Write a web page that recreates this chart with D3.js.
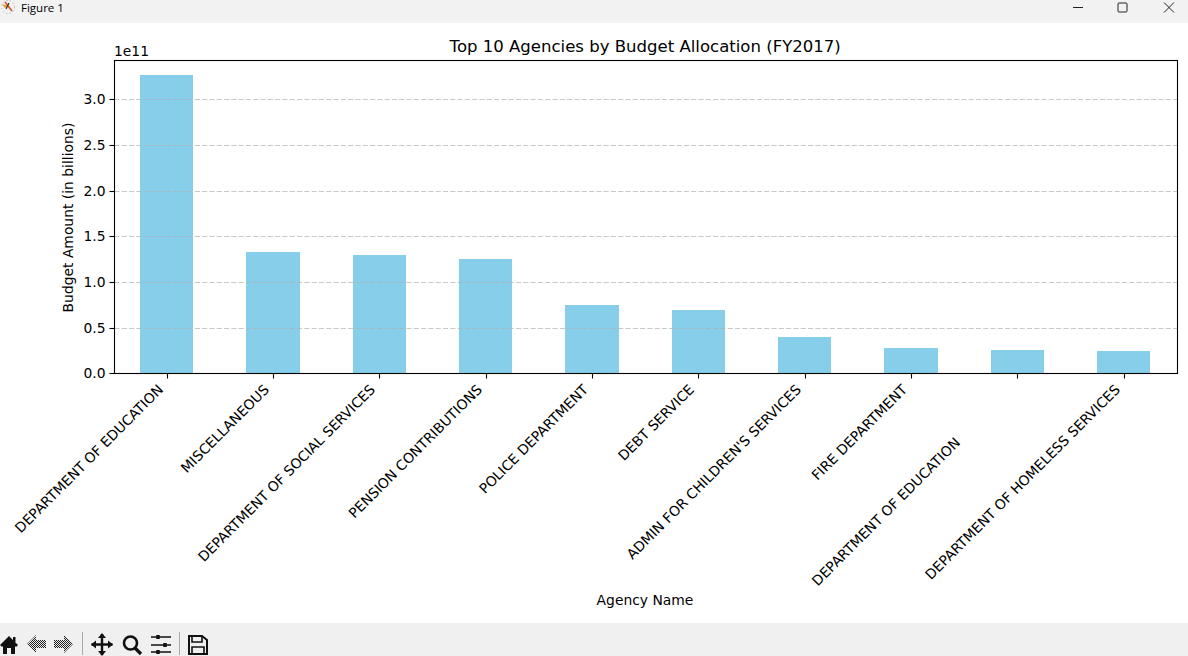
<!DOCTYPE html>
<html><head><meta charset="utf-8">
<script src="https://cdn.jsdelivr.net/npm/d3@7"></script>
<style>html,body{margin:0;padding:0;background:#fff;overflow:hidden}svg{display:block}text{font-family:"DejaVu Sans",sans-serif;fill:#000;white-space:pre}</style>
</head><body><svg id="c" width="1188" height="656"></svg>
<script>
const categories=["DEPARTMENT OF EDUCATION","MISCELLANEOUS","DEPARTMENT OF SOCIAL SERVICES","PENSION CONTRIBUTIONS","POLICE DEPARTMENT","DEBT SERVICE","ADMIN FOR CHILDREN'S SERVICES","FIRE DEPARTMENT","DEPARTMENT OF EDUCATION                 ","DEPARTMENT OF HOMELESS SERVICES"];
const budgetValues=[3.273e11,1.334e11,1.301e11,1.257e11,0.754e11,0.699e11,0.403e11,0.283e11,0.261e11,0.25e11];
const yTicks=[0,0.5e11,1e11,1.5e11,2e11,2.5e11,3e11];
const chartTitle="Top 10 Agencies by Budget Allocation (FY2017)";
const svg=d3.select("#c");
const L=114.5,R=1177.5,T=60.5,B=373.5;
// window chrome
svg.append("rect").attr("width",1188).attr("height",23).attr("fill","#f2f2f2");
svg.append("rect").attr("y",623).attr("width",1188).attr("height",33).attr("fill","#f0f0f0");
svg.append("text").attr("x",21).attr("y",12).attr("font-size",11.5).style("font-family","'Open Sans',sans-serif").text("Figure 1");
const ic=svg.append("g");
ic.append("circle").attr("cx",8).attr("cy",7).attr("r",6.5).attr("fill","none").attr("stroke","#bbb").attr("stroke-dasharray","1.5 2");
ic.append("path").attr("d","M2 4L8 6L5 8Z").attr("fill","#e8a010");
ic.append("path").attr("d","M5 2L12 11").attr("stroke","#d9541e").attr("stroke-width",1.6);
ic.append("path").attr("d","M9 3L6 9").attr("stroke","#333").attr("stroke-width",1.2);
svg.append("path").attr("d","M1073 7.5H1083M1119 3h7a1 1 0 0 1 1 1v7a1 1 0 0 1 -1 1h-7a1 1 0 0 1 -1 -1v-7a1 1 0 0 1 1 -1ZM1164 2.5L1174 12.5M1174 2.5L1164 12.5").attr("fill","none").attr("stroke","#222").attr("stroke-width",1);
// toolbar icons
const defs=svg.append("defs");
const pat=defs.append("pattern").attr("id","dither").attr("width",2).attr("height",2).attr("patternUnits","userSpaceOnUse");
pat.append("rect").attr("width",2).attr("height",2).attr("fill","#e8e8e8");
pat.append("rect").attr("width",1).attr("height",1).attr("fill","#222");
pat.append("rect").attr("x",1).attr("y",1).attr("width",1).attr("height",1).attr("fill","#222");
const tb=svg.append("g");
tb.append("path").attr("d","M0 645L9 636L18 645L16 647L15 646V654H11V648H7V654H3V646L2 647Z").attr("fill","#111");
tb.append("rect").attr("x",13).attr("y",637).attr("width",2.5).attr("height",5).attr("fill","#111");
["M27 644L36 635V640H46V648H36V653Z","M73 644L64 635V640H54V648H64V653Z"].forEach(d=>tb.append("path").attr("d",d).attr("fill","url(#dither)"));
tb.append("path").attr("d","M82.5 632V655M179.5 632V655").attr("stroke","#aaa");
tb.append("path").attr("d","M102 634V655M91.5 644.5H112.5").attr("stroke","#111").attr("stroke-width",2.4);
tb.append("path").attr("d","M102 633L106 638H98ZM102 656L106 651H98ZM91 644.5L96 640.5V648.5ZM113 644.5L108 640.5V648.5Z").attr("fill","#111");
tb.append("circle").attr("cx",130.5).attr("cy",643).attr("r",6.5).attr("fill","none").attr("stroke","#111").attr("stroke-width",2.6);
tb.append("path").attr("d","M135 648L141 654").attr("stroke","#111").attr("stroke-width",3.2);
tb.append("path").attr("d","M151 637H171M151 645H171M151 652H171").attr("stroke","#111").attr("stroke-width",1.6);
tb.append("path").attr("d","M158 635V639M165 643V647M158 650V654").attr("stroke","#111").attr("stroke-width",3.5);
tb.append("path").attr("d","M189 636H202L207 640V654H189Z").attr("fill","none").attr("stroke","#111").attr("stroke-width",2);
tb.append("path").attr("d","M192 636V642H202V636M192 654V647H204V654").attr("fill","none").attr("stroke","#111").attr("stroke-width",1.6);
// chart
const x=d3.scaleBand().domain(categories).range([113.46,1176.96]).paddingInner(0.5).paddingOuter(0.25);
const y=d3.scaleLinear().domain([0,3.4282e11]).range([373.8,60.8]);
const snap=v=>Math.floor(y(v))+.5;
const plot=svg.append("g").attr("class","bars");
plot.selectAll("rect").data(budgetValues).join("rect")
 .attr("x",(d,i)=>Math.round(x(categories[i])))
 .attr("width",(d,i)=>Math.round(x(categories[i])+x.bandwidth())-Math.round(x(categories[i])))
 .attr("y",d=>Math.round(y(d))).attr("height",d=>Math.round(y(0))-Math.round(y(d))).attr("fill","#87ceeb");
const grid=svg.append("g");
grid.selectAll("line").data(yTicks.slice(1)).join("line").attr("x1",L).attr("x2",R).attr("y1",snap).attr("y2",snap).attr("stroke","#b0b0b0").attr("stroke-opacity",.7).attr("stroke-width",1.1).attr("stroke-dasharray","5.1 2.2");
const ya=svg.append("g").attr("transform",`translate(${L},0)`).call(d3.axisLeft(y).tickValues(yTicks).tickSize(5).tickPadding(4).tickFormat(d=>(d/1e11).toFixed(1)));
const xa=svg.append("g").attr("transform",`translate(0,${B})`).call(d3.axisBottom(x).tickSize(5));
[ya,xa].forEach(g=>{g.select(".domain").remove();g.selectAll("line").attr("stroke","#000").attr("stroke-width",1.1);g.selectAll("text").attr("font-size",13.89).style("font-family","'DejaVu Sans'")});
ya.selectAll(".tick").attr("transform",d=>`translate(0,${snap(d)})`);
xa.selectAll(".tick").attr("transform",d=>`translate(${Math.round(x(d)+x.bandwidth()/2)+.5},0)`);
xa.selectAll("text").attr("text-anchor","end").attr("dy",0).attr("transform","translate(-3.5,17) rotate(-45)").attr("y",0).attr("x",0);
svg.append("rect").attr("x",L).attr("y",T).attr("width",R-L).attr("height",B-T).attr("fill","none").attr("stroke","#000").attr("stroke-width",1.1);
svg.append("text").attr("x",(L+R)/2-0.8).attr("y",51.5).attr("text-anchor","middle").attr("font-size",16.55).text(chartTitle);
svg.append("text").attr("x",114).attr("y",56).attr("font-size",13.89).text("1e11");
svg.append("text").attr("x",645).attr("y",605).attr("text-anchor","middle").attr("font-size",13.89).text("Agency Name");
svg.append("text").attr("transform","translate(73,217.5) rotate(-90)").attr("text-anchor","middle").attr("font-size",13.89).text("Budget Amount (in billions)");
</script></body></html>
